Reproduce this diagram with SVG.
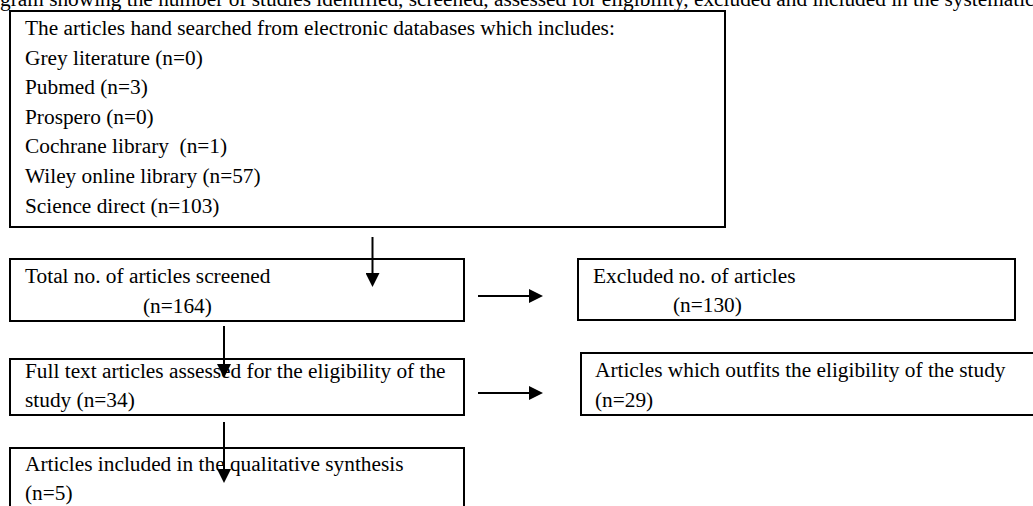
<svg xmlns="http://www.w3.org/2000/svg" width="1033" height="506" viewBox="0 0 1033 506">
  <defs>
    <style>
      text { font-family: "Liberation Serif", "Times New Roman", serif; font-size: 21.33px; fill: #000; }
      .box { fill: #fff; stroke: #000; stroke-width: 2; }
      .conn { stroke: #000; stroke-width: 2; fill: none; }
    </style>
    <marker id="arrow" viewBox="0 0 14 14" markerWidth="14" markerHeight="14" refX="0" refY="7" orient="auto" markerUnits="userSpaceOnUse">
      <path d="M0,0 L14,7 L0,14 z" fill="#000"/>
    </marker>
  </defs>
  <rect width="1033" height="506" fill="#fff"/>

  <text id="title" x="0" y="5.5">gram showing the number of studies identified, screened, assessed for eligibility, excluded and included in the systematic</text>

  <g id="node-sources">
    <rect class="box" x="10" y="11" width="715" height="216"/>
    <text x="25" y="35">The articles hand searched from electronic databases which includes:</text>
    <text x="25" y="64.6">Grey literature (n=0)</text>
    <text x="25" y="94.2">Pubmed (n=3)</text>
    <text x="25" y="123.8">Prospero (n=0)</text>
    <text x="25" y="153.4" xml:space="preserve">Cochrane library  (n=1)</text>
    <text x="25" y="183">Wiley online library (n=57)</text>
    <text x="25" y="212.6">Science direct (n=103)</text>
  </g>

  <g id="node-screened">
    <rect class="box" x="10" y="259" width="454" height="62"/>
    <text x="25" y="283">Total no. of articles screened</text>
    <text x="143" y="313">(n=164)</text>
  </g>

  <g id="node-excluded">
    <rect class="box" x="578" y="259" width="437" height="61"/>
    <text x="593" y="283">Excluded no. of articles</text>
    <text x="673" y="312">(n=130)</text>
  </g>

  <g id="node-fulltext">
    <rect class="box" x="10" y="359" width="454" height="56"/>
    <text x="25" y="378">Full text articles assessed for the eligibility of the</text>
    <text x="25" y="407">study (n=34)</text>
  </g>

  <g id="node-outfits">
    <rect class="box" x="581" y="353" width="470" height="62"/>
    <text x="595" y="377">Articles which outfits the eligibility of the study</text>
    <text x="595" y="407">(n=29)</text>
  </g>

  <g id="node-included">
    <rect class="box" x="10" y="448" width="454" height="64"/>
    <text x="25" y="471">Articles included in the qualitative synthesis</text>
    <text x="25" y="500">(n=5)</text>
  </g>

  <g id="connectors">
    <line class="conn" x1="372.5" y1="237" x2="372.5" y2="273" marker-end="url(#arrow)"/>
    <line class="conn" x1="478" y1="296" x2="529" y2="296" marker-end="url(#arrow)"/>
    <line class="conn" x1="224" y1="326" x2="224" y2="364" marker-end="url(#arrow)"/>
    <line class="conn" x1="478" y1="393" x2="529" y2="393" marker-end="url(#arrow)"/>
    <line class="conn" x1="224" y1="422" x2="224" y2="469" marker-end="url(#arrow)"/>
  </g>
</svg>
